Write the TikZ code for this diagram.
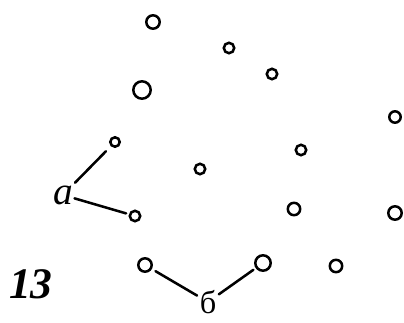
\documentclass[tikz,border=0pt]{standalone}
\usepackage{fontspec}
\setmainfont{Liberation Serif}
\usetikzlibrary{positioning}

\begin{document}
\begin{tikzpicture}[
  x=0.025cm,y=-0.025cm,
  hole/.style={circle,draw,line width=1.8pt,inner sep=0pt,minimum size=(#1-2.6)*0.025cm},
  hole/.default=14,
  letter/.style={inner sep=1pt,font=\fontsize{28}{28}\selectfont\itshape},
  link/.style={line width=1.8pt,line cap=round}
]
\useasboundingbox (0,0) rectangle (404,323);

\node[hole=16] (c1) at (153,22) {};
\node[hole=13] (c2) at (229,48) {};
\node[hole=13] (c3) at (272,74) {};
\node[hole=20] (c4) at (142,90) {};
\node[hole=14] (c5) at (395,117) {};
\node[hole=12] (c6) at (115,142) {};
\node[hole=13] (c7) at (301,150) {};
\node[hole=13] (c8) at (200,169) {};
\node[hole=13] (c9) at (135,216) {};
\node[hole=15] (c10) at (294,209) {};
\node[hole=16] (c11) at (395,213) {};
\node[hole=16] (c12) at (145,265) {};
\node[hole=18] (c13) at (263,263) {};
\node[hole=15] (c14) at (336,266) {};

\node[letter] (a) at (63,195) {а};
\node[letter,inner sep=0pt,font=\fontsize{23}{23}\selectfont] (b) at (208,302) {б};
\node[font=\fontsize{31}{31}\selectfont\bfseries\itshape] (num) at (31,284) {13};

\draw[link,shorten <=1pt,shorten >=5pt] (a) -- (c6);
\draw[link,shorten <=0pt,shorten >=2pt] (a) -- (c9);
\draw[link,shorten <=2pt,shorten >=3pt] (b) -- (c12);
\draw[link,shorten <=2pt,shorten >=2pt] (b) -- (c13);
\end{tikzpicture}
\end{document}
